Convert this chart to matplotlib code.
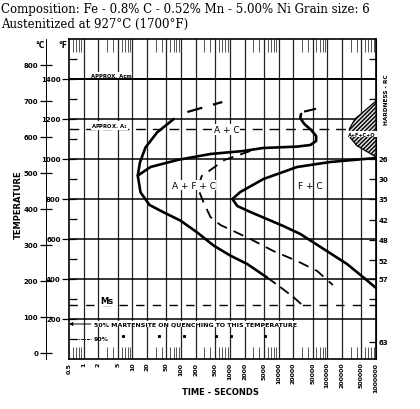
import matplotlib
matplotlib.use("Agg")
import matplotlib.pyplot as plt
from matplotlib.ticker import FixedLocator, LogLocator, NullFormatter

# ---------------- data ----------------
title1 = "Composition: Fe - 0.8% C - 0.52% Mn - 5.00% Ni Grain size: 6"
title2 = "Austenitized at 927°C (1700°F)"

time_ticks = [0.5, 1, 2, 5, 10, 20, 50, 100, 200, 500, 1000, 2000, 5000,
              10000, 20000, 50000, 100000, 200000, 500000, 1000000]
time_labels = ["0.5", "1", "2", "5", "10", "20", "50", "100", "200", "500",
               "1000", "2000", "5000", "10000", "20000", "50000", "100000",
               "200000", "500000", "1000000"]
temp_f_ticks = [200, 400, 600, 800, 1000, 1200, 1400]
temp_f_labels = ["200", "400", "600", "800", "1000", "1200", "1400"]
temp_f_minor = [100, 300, 500, 700, 900, 1100, 1300, 1500]
temp_c_ticks = [0, 100, 200, 300, 400, 500, 600, 700, 800]
hard_F = [1500, 1300, 1000, 900, 800, 695, 595, 495, 400, 300, 85]
hard_labels = ["", "", "26", "30", "35", "42", "48", "52", "57", "", "63"]

# left C-curve (solid part, then dashed tail)
start_t = [70.6, 32.2, 18.6, 14.3, 12.9, 14.7, 22.5, 44, 97, 213, 466, 1025, 2270, 5780]
start_F = [1200, 1133, 1058, 983, 917, 833, 770, 733, 692, 633, 567, 517, 475, 408]
start_tail_t = [5780, 10800, 20100, 30600]
start_tail_F = [408, 360, 310, 270]

# upper branch from nose to the S-shaped end
upper_t = [12.9, 23.5, 84, 400, 1900, 4800, 24000, 45000, 59000, 59000, 46800, 33800, 27800, 29000]
upper_F = [917, 960, 995, 1025, 1040, 1055, 1062, 1070, 1090, 1115, 1145, 1175, 1205, 1225]
s_dash_t = [35000, 56000]
s_dash_F = [1238, 1250]

# middle dashed curve
mid_t = [2640, 770, 400, 265, 228, 237, 287, 400, 640, 1180, 2640, 7800, 24000, 62000, 130000]
mid_F = [1040, 995, 945, 915, 870, 835, 785, 710, 670, 640, 600, 540, 490, 440, 370]

# F + C curve
fc_t = [1000000, 114000, 24000, 4900, 1640, 1130, 1420, 2640, 12500, 28000, 105000, 254000, 540000, 1000000]
fc_F = [1005, 985, 960, 900, 835, 800, 765, 735, 665, 625, 535, 475, 410, 355]

# upper dashed segment in A + C field
ac_dash_t = [134, 700]
ac_dash_F = [1235, 1285]

# hatched A+F+C+Q region
hatch_t = [1000000, 646000, 370000, 284000, 294000, 403000, 697000, 1000000]
hatch_F = [1290, 1250, 1200, 1150, 1108, 1067, 1033, 1010]

acm_F = 1400
a1_F = 1150
ms_F = 270
m50_F = 175
m90_F = 100
dots_t = [6.3, 36, 112, 530, 1070, 5300]
dots_F = [115, 115, 115, 115, 115, 115]

# ---------------- figure ----------------
W, H = 420, 410
fig = plt.figure(figsize=(W / 100, H / 100), dpi=100)
fig.patch.set_facecolor("white")

def fx(px):
    return px / W

def fy(py):
    return 1 - py / H

ax = fig.add_axes([fx(69), fy(360), fx(376) - fx(69), fy(40) - fy(360)])
ax.set_xscale("log")
ax.set_xlim(0.5, 1e6)
ax.set_ylim(0, 1600)

lab_font = dict(fontsize=5, fontweight="bold", family="DejaVu Sans")

# x ticks
ax.set_xticks(time_ticks)
ax.set_xticklabels(time_labels, rotation=90, fontsize=4.5, fontweight="bold")
ax.xaxis.set_minor_locator(LogLocator(base=10, subs=[3, 4, 6, 7, 8, 9], numticks=50))
ax.xaxis.set_minor_formatter(NullFormatter())
ax.tick_params(axis="x", which="major", length=0, pad=2)
ax.tick_params(axis="x", which="minor", direction="in", length=9, width=0.7,
               top=True, bottom=True, color="#555555")
for t in time_ticks[1:-1]:
    ax.axvline(t, color="#222222", lw=0.9, zorder=1)

# left F axis
ax.set_yticks(temp_f_ticks)
ax.set_yticklabels(temp_f_labels, **lab_font)
ax.yaxis.set_minor_locator(FixedLocator(temp_f_minor))
ax.tick_params(axis="y", which="major", direction="inout", length=10, width=0.9, pad=1)
ax.tick_params(axis="y", which="minor", direction="in", length=6, width=0.9)
for f in temp_f_ticks:
    ax.axhline(f, color="black", lw=1.1, zorder=1)

for s in ax.spines.values():
    s.set_linewidth(1.2)

# Celsius axis
secc = ax.secondary_yaxis(-0.076, functions=(lambda f: (f - 32) * 5 / 9,
                                              lambda c: c * 9 / 5 + 32))
secc.set_yticks(temp_c_ticks)
secc.set_yticklabels([str(c) for c in temp_c_ticks], **lab_font)
secc.tick_params(direction="inout", length=9, width=0.9, pad=1)
secc.spines["left"].set_linewidth(0.7)
secc.spines["left"].set_linestyle((0, (2, 1)))

# hardness axis
sech = ax.secondary_yaxis("right")
sech.set_yticks(hard_F)
sech.set_yticklabels(hard_labels, **lab_font)
sech.tick_params(direction="in", length=5, width=0.9, pad=2)

# critical lines
ax.axhline(acm_F, color="black", lw=1.3, zorder=2)
ax.axhline(a1_F, color="black", lw=1.0, dashes=(7, 5), zorder=2)
ax.axhline(ms_F, color="black", lw=1.0, dashes=(6, 6), zorder=2)

# curves
ax.plot(start_t, start_F, color="black", lw=1.9, solid_capstyle="round", zorder=4)
ax.plot(start_tail_t, start_tail_F, color="black", lw=1.3, dashes=(6, 3), zorder=4)
ax.plot(upper_t, upper_F, color="black", lw=1.9, solid_capstyle="round", zorder=4)
ax.plot(s_dash_t, s_dash_F, color="black", lw=1.5, zorder=4)
ax.plot(mid_t, mid_F, color="black", lw=1.3, dashes=(6, 4), zorder=4)
ax.plot(fc_t, fc_F, color="black", lw=1.9, solid_capstyle="round", zorder=4)
ax.plot(ac_dash_t, ac_dash_F, color="black", lw=1.6, dashes=(7, 5), zorder=4)

ax.fill(hatch_t, hatch_F, facecolor="#dddddd", edgecolor="black", hatch="////////",
        lw=0.9, zorder=3)
ax.text(518000, 1125, "A+F+C+Q", fontsize=3.6, fontweight="bold", ha="center",
        va="center", zorder=5,
        bbox=dict(facecolor="white", edgecolor="none", pad=0.6))

# martensite markers
ax.annotate("", xy=(0.5, m50_F), xytext=(1.4, m50_F),
            arrowprops=dict(arrowstyle="-|>", lw=0.7, color="black",
                            mutation_scale=5, shrinkA=0, shrinkB=0), zorder=5)
ax.text(1.6, m50_F, "50% MARTENSITE ON QUENCHING TO THIS TEMPERATURE",
        fontsize=4.5, fontweight="bold", va="center", ha="left", zorder=5,
        bbox=dict(facecolor="white", edgecolor="none", pad=0.3))
ax.plot([0.5, 1.4], [m90_F, m90_F], color="black", lw=0.7, dashes=(3, 1, 1, 1), zorder=5)
ax.text(1.6, m90_F, "90%", fontsize=4.5, fontweight="bold", va="center", ha="left", zorder=5)
ax.plot(dots_t, dots_F, ls="none", marker="s", ms=1.2, color="black", zorder=5)

# field labels
ax.text(1.4, 1420, "APPROX. Acm", fontsize=3.8, fontweight="bold", ha="left", va="center",
        zorder=5, bbox=dict(facecolor="white", edgecolor="none", pad=0.2))
ax.text(1.4, 1168, r"APPROX. A$_\mathbf{1}$", fontsize=3.8, fontweight="bold", ha="left",
        va="center", zorder=5, bbox=dict(facecolor="white", edgecolor="none", pad=0.2))
ax.text(850, 1147, "A + C", fontsize=6.5, ha="center", va="center", zorder=5,
        bbox=dict(facecolor="white", edgecolor="none", pad=0.8))
ax.text(180, 868, "A + F + C", fontsize=6.5, ha="center", va="center", zorder=5,
        bbox=dict(facecolor="white", edgecolor="none", pad=0.3))
ax.text(45000, 868, "F + C", fontsize=6.5, ha="center", va="center", zorder=5)
ax.text(3.0, 292, "Ms", fontsize=6, fontweight="bold", ha="center", va="center", zorder=5,
        bbox=dict(facecolor="white", edgecolor="none", pad=0.3))

# axis titles and headings
fig.text(fx(40), fy(45), "°C", fontsize=5.5, fontweight="bold", ha="center", va="center")
fig.text(fx(63), fy(45), "°F", fontsize=5.5, fontweight="bold", ha="center", va="center")
fig.text(fx(18), fy(205), "TEMPERATURE", fontsize=6, fontweight="bold", rotation=90,
         ha="center", va="center")
fig.text(fx(220), fy(393), "TIME - SECONDS", fontsize=6, fontweight="bold",
         ha="center", va="center")
fig.text(fx(386), fy(100), "HARDNESS - RC", fontsize=4.2, fontweight="bold", rotation=90,
         ha="center", va="center")
fig.text(fx(1), fy(9), title1, fontsize=8.5, family="DejaVu Serif", ha="left", va="center")
fig.text(fx(1), fy(24), title2, fontsize=8.5, family="DejaVu Serif", ha="left", va="center")

fig.savefig("out.png", dpi=100, facecolor="white")
